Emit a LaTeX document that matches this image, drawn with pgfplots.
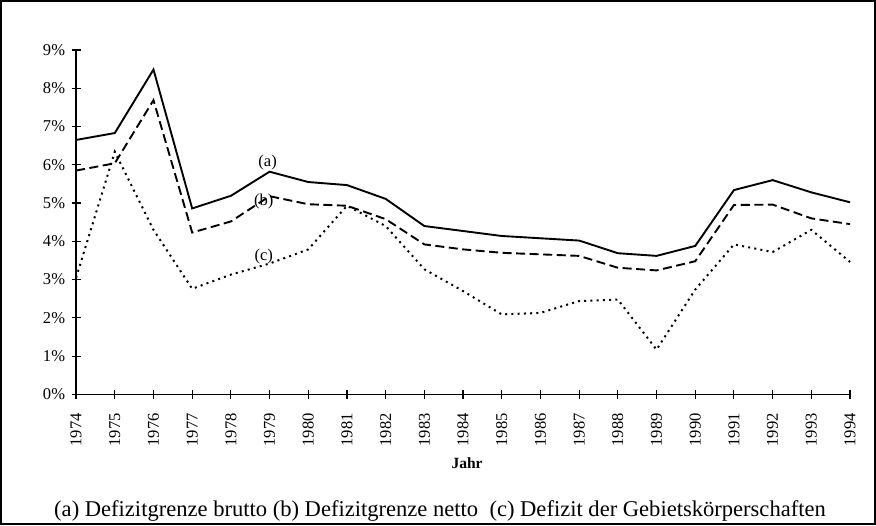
\documentclass[border=0pt]{standalone}
\usepackage{pgfplots}
\pgfplotsset{compat=1.18}
\usepackage{fontspec}
\setmainfont{Liberation Serif}

\pgfplotstableread{
jahr  a     b     c
1974  6.65  5.85  3.05
1975  6.83  6.04  6.34
1976  8.49  7.69  4.30
1977  4.86  4.23  2.76
1978  5.19  4.52  3.13
1979  5.82  5.18  3.42
1980  5.55  4.97  3.79
1981  5.47  4.93  4.93
1982  5.11  4.58  4.40
1983  4.40  3.92  3.27
1984  4.27  3.79  2.70
1985  4.14  3.70  2.09
1986  4.08  3.66  2.13
1987  4.02  3.62  2.44
1988  3.69  3.31  2.48
1989  3.62  3.24  1.17
1990  3.88  3.48  2.74
1991  5.34  4.95  3.92
1992  5.60  4.96  3.72
1993  5.28  4.60  4.30
1994  5.02  4.45  3.46
}\defizit

\begin{document}
\begin{tikzpicture}
  \begin{axis}[
    at={(0,0)}, anchor=south west,
    scale only axis,
    width=772bp,
    height=343.5bp,
    xmin=1974, xmax=1994,
    ymin=0, ymax=9,
    axis x line=bottom,
    axis y line=left,
    axis line style={-, line width=1.4pt},
    xtick={1974,...,1994},
    xticklabels={1974,1975,1976,1977,1978,1979,1980,1981,1982,1983,1984,1985,1986,1987,1988,1989,1990,1991,1992,1993,1994},
    ytick={0,...,9},
    yticklabels={0\%,1\%,2\%,3\%,4\%,5\%,6\%,7\%,8\%,9\%},
    tick align=center,
    major tick length=9bp,
    tick style={black, line width=1.2pt},
    xticklabel style={rotate=90, anchor=east, font=\fontsize{16.5bp}{18bp}\selectfont, xshift=-11bp},
    yticklabel style={font=\fontsize{16.5bp}{18bp}\selectfont, xshift=-3bp},
    clip=false,
  ]
    \addplot[black, line width=1.9pt] table[x=jahr, y=a] {\defizit};
    \addplot[black, line width=1.9pt, dash pattern=on 9bp off 4.5bp] table[x=jahr, y=b] {\defizit};
    \addplot[black, line width=2pt, dash pattern=on 2bp off 4.2bp] table[x=jahr, y=c] {\defizit};

    \node[font=\fontsize{16.5bp}{18bp}\selectfont] at (axis cs:1978.95,6.06) {(a)};
    \node[font=\fontsize{16.5bp}{18bp}\selectfont] at (axis cs:1978.85,5.04) {(b)};
    \node[font=\fontsize{16.5bp}{18bp}\selectfont] at (axis cs:1978.85,3.60) {(c)};
  \end{axis}
  \node[font=\bfseries\fontsize{15.5bp}{17bp}\selectfont] at (390bp,-68.5bp) {Jahr};
  \node[font=\fontsize{22.5bp}{25bp}\selectfont, anchor=base] at (363bp,-122bp)
    {(a) Defizitgrenze brutto (b) Defizitgrenze netto\ \ (c) Defizit der Gebietskörperschaften};
  \draw[line width=1.8pt] (-75bp,-129.5bp) rectangle (797bp,392.5bp);
\end{tikzpicture}
\end{document}
